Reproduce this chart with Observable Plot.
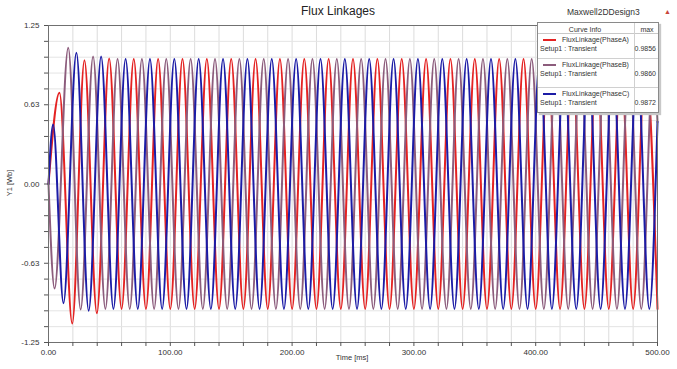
<!DOCTYPE html>
<html>
<head>
<meta charset="utf-8">
<script src="https://cdn.jsdelivr.net/npm/d3@7"></script>
<script src="https://cdn.jsdelivr.net/npm/@observablehq/plot@0.6"></script>
<style>
  html, body { margin: 0; padding: 0; background: #fff; }
  #wrap { position: relative; width: 677px; height: 369px; font-family: "Liberation Sans", Arial, sans-serif; color: #333; overflow: hidden; }
  #wrap svg { position: absolute; left: 0; top: 0; }
  .abs { position: absolute; white-space: nowrap; line-height: 1; }
  #legend { position: absolute; left: 537px; top: 22px; width: 120px; height: 89px; background: #fff; border: 1px solid #8a8a8a; box-shadow: 2px 2px 1px #c8c8c8; font-size: 7px; color: #333; }
</style>
</head>
<body>
<div id="wrap"></div>
<script>
// ---------- data ----------
const seriesNames = ["FluxLinkage(PhaseA)", "FluxLinkage(PhaseB)", "FluxLinkage(PhaseC)"];
const seriesSetup = ["Setup1 : Transient", "Setup1 : Transient", "Setup1 : Transient"];
const seriesMax = ["0.9856", "0.9860", "0.9872"];
const seriesColors = ["#e42222", "#8c5c7c", "#1c1ca6"];

// extrema (peaks/troughs) of each curve, time in ms
const phaseA_t = [0, 9, 19.5, 29.5, 39.7, 49.8,
  60, 70, 80, 90, 100, 110, 120, 130, 140, 150,
  160, 170, 180, 190, 200, 210, 220, 230, 240, 250,
  260, 270, 280, 290, 300, 310, 320, 330, 340, 350,
  360, 370, 380, 390, 400, 410, 420, 430, 440, 450,
  460, 470, 480, 490, 500];
const phaseA_v = [0, 0.72, -1.10, 0.975, -1.02, 0.99,
  -0.985, 0.985, -0.985, 0.985, -0.985, 0.985, -0.985, 0.985, -0.985, 0.985,
  -0.985, 0.985, -0.985, 0.985, -0.985, 0.985, -0.985, 0.985, -0.985, 0.985,
  -0.985, 0.985, -0.985, 0.985, -0.985, 0.985, -0.985, 0.985, -0.985, 0.985,
  -0.985, 0.985, -0.985, 0.985, -0.985, 0.985, -0.985, 0.985, -0.985, 0.985,
  -0.985, 0.985, -0.985, 0.985, -0.985];

const phaseB_t = [0, 5, 16.2, 26.4, 36.6,
  46.7, 56.7, 66.7, 76.7, 86.7, 96.7, 106.7, 116.7, 126.7, 136.7,
  146.7, 156.7, 166.7, 176.7, 186.7, 196.7, 206.7, 216.7, 226.7, 236.7,
  246.7, 256.7, 266.7, 276.7, 286.7, 296.7, 306.7, 316.7, 326.7, 336.7,
  346.7, 356.7, 366.7, 376.7, 386.7, 396.7, 406.7, 416.7, 426.7, 436.7,
  446.7, 456.7, 466.7, 476.7, 486.7, 496.7, 500];
const phaseB_v = [0, -0.825, 1.075, -0.99, 1.005,
  -0.985, 0.985, -0.985, 0.985, -0.985, 0.985, -0.985, 0.985, -0.985, 0.985,
  -0.985, 0.985, -0.985, 0.985, -0.985, 0.985, -0.985, 0.985, -0.985, 0.985,
  -0.985, 0.985, -0.985, 0.985, -0.985, 0.985, -0.985, 0.985, -0.985, 0.985,
  -0.985, 0.985, -0.985, 0.985, -0.985, 0.985, -0.985, 0.985, -0.985, 0.985,
  -0.985, 0.985, -0.985, 0.985, -0.985, 0.985, 0.49];

const phaseC_t = [0, 3.8, 12.3, 22.9, 33, 43.2,
  53.3, 63.3, 73.3, 83.3, 93.3, 103.3, 113.3, 123.3, 133.3, 143.3,
  153.3, 163.3, 173.3, 183.3, 193.3, 203.3, 213.3, 223.3, 233.3, 243.3,
  253.3, 263.3, 273.3, 283.3, 293.3, 303.3, 313.3, 323.3, 333.3, 343.3,
  353.3, 363.3, 373.3, 383.3, 393.3, 403.3, 413.3, 423.3, 433.3, 443.3,
  453.3, 463.3, 473.3, 483.3, 493.3, 500];
const phaseC_v = [0, 0.47, -0.94, 1.035, -1.0, 1.005,
  -0.985, 0.985, -0.985, 0.985, -0.985, 0.985, -0.985, 0.985, -0.985, 0.985,
  -0.985, 0.985, -0.985, 0.985, -0.985, 0.985, -0.985, 0.985, -0.985, 0.985,
  -0.985, 0.985, -0.985, 0.985, -0.985, 0.985, -0.985, 0.985, -0.985, 0.985,
  -0.985, 0.985, -0.985, 0.985, -0.985, 0.985, -0.985, 0.985, -0.985, 0.985,
  -0.985, 0.985, -0.985, 0.985, -0.985, 0.49];

const xTickValues = [0, 100, 200, 300, 400, 500];
const xTickLabels = ["0.00", "100.00", "200.00", "300.00", "400.00", "500.00"];
const yTickValues = [-1.25, -0.625, 0, 0.625, 1.25];
const yTickLabels = ["-1.25", "-0.63", "0.00", "0.63", "1.25"];
const xMinorTicks = [0, 20, 40, 60, 80, 100, 120, 140, 160, 180, 200, 220, 240, 260, 280, 300, 320, 340, 360, 380, 400, 420, 440, 460, 480, 500];
const yMinorTicks = [-1.25, -1.125, -1, -0.875, -0.75, -0.625, -0.5, -0.375, -0.25, -0.125, 0, 0.125, 0.25, 0.375, 0.5, 0.625, 0.75, 0.875, 1, 1.125, 1.25];

const titleText = "Flux Linkages";
const designText = "Maxwell2DDesign3";
const xLabel = "Time [ms]";
const yLabel = "Y1 [Wb]";

// ---------- build ----------
const toRows = (ts, vs) => ts.map((t, i) => ({t, v: vs[i]}));
const series = [toRows(phaseA_t, phaseA_v), toRows(phaseB_t, phaseB_v), toRows(phaseC_t, phaseC_v)];

const chart = Plot.plot({
  width: 677, height: 369,
  marginLeft: 48, marginRight: 20, marginTop: 25, marginBottom: 27,
  style: {fontFamily: "'Liberation Sans', Arial, sans-serif", fontSize: "8px", color: "#333", background: "transparent", overflow: "visible"},
  x: {domain: [0, 500]},
  y: {domain: [-1.25, 1.25]},
  marks: [
    Plot.gridX(xMinorTicks, {stroke: "#dcdcdc", strokeOpacity: 1}),
    Plot.gridY(yMinorTicks, {stroke: "#e4e4e4", strokeOpacity: 1}),
    ...series.map((rows, k) => Plot.line(rows, {x: "t", y: "v", stroke: seriesColors[k], strokeWidth: 2, curve: "monotone-x"})),
    Plot.frame({stroke: "#707070"}),
    Plot.axisX({ticks: xMinorTicks, tickSize: 4, tickFormat: () => "", label: null, stroke: "#555"}),
    Plot.axisX({ticks: xTickValues, tickSize: 0, tickPadding: 7, tickFormat: d => xTickLabels[xTickValues.indexOf(d)], label: null, fill: "#333"}),
    Plot.axisY({ticks: yMinorTicks, tickSize: 4, tickFormat: () => "", label: null, stroke: "#555"}),
    Plot.axisY({ticks: yTickValues, tickSize: 0, tickPadding: 9, tickFormat: d => yTickLabels[yTickValues.indexOf(d)], label: null, fill: "#333"})
  ]
});

const wrap = document.getElementById("wrap");
wrap.appendChild(chart);

function addText(txt, css) {
  const d = document.createElement("div");
  d.className = "abs";
  d.textContent = txt;
  Object.assign(d.style, css);
  wrap.appendChild(d);
  return d;
}
addText(titleText, {left: "338px", top: "5px", transform: "translateX(-50%)", fontSize: "12px", color: "#222"});
addText(designText, {left: "567px", top: "8px", fontSize: "8.5px", color: "#333"});
addText("\u25B2", {left: "664px", top: "8px", fontSize: "7px", color: "#c8453a"});
addText(xLabel, {left: "352px", top: "354px", transform: "translateX(-50%)", fontSize: "7.5px", color: "#333"});
addText(yLabel, {left: "10px", top: "183px", transform: "translate(-50%,-50%) rotate(-90deg)", fontSize: "7.5px", color: "#333"});

// legend table
const lg = document.createElement("div");
lg.id = "legend";
wrap.appendChild(lg);
function lgText(txt, css) {
  const d = document.createElement("div");
  d.className = "abs";
  d.textContent = txt;
  Object.assign(d.style, css);
  lg.appendChild(d);
}
function lgLine(css) {
  const d = document.createElement("div");
  d.style.position = "absolute";
  Object.assign(d.style, css);
  lg.appendChild(d);
}
// header
lgText("Curve Info", {left: "47px", top: "3px", transform: "translateX(-50%)"});
lgText("max", {left: "109px", top: "3px", transform: "translateX(-50%)"});
lgLine({left: "0px", top: "10px", width: "120px", height: "0px", borderTop: "1px solid #c8c8c8"});
lgLine({left: "96px", top: "0px", width: "0px", height: "89px", borderLeft: "1px solid #d0d0d0"});
const rowTops = [11, 36, 65];
rowTops.forEach((rt, k) => {
  lgLine({left: "5px", top: (rt + 5) + "px", width: "13px", height: "2px", background: seriesColors[k]});
  lgText(seriesNames[k], {left: "24px", top: (rt + 2) + "px"});
  lgText(seriesSetup[k], {left: "2px", top: (rt + 11) + "px"});
  lgText(seriesMax[k], {right: "2px", top: (rt + 11) + "px"});
  if (k < 2) lgLine({left: "0px", top: (k === 0 ? 35 : 64) + "px", width: "120px", height: "0px", borderTop: "1px solid #d0d0d0"});
});
</script>
</body>
</html>
